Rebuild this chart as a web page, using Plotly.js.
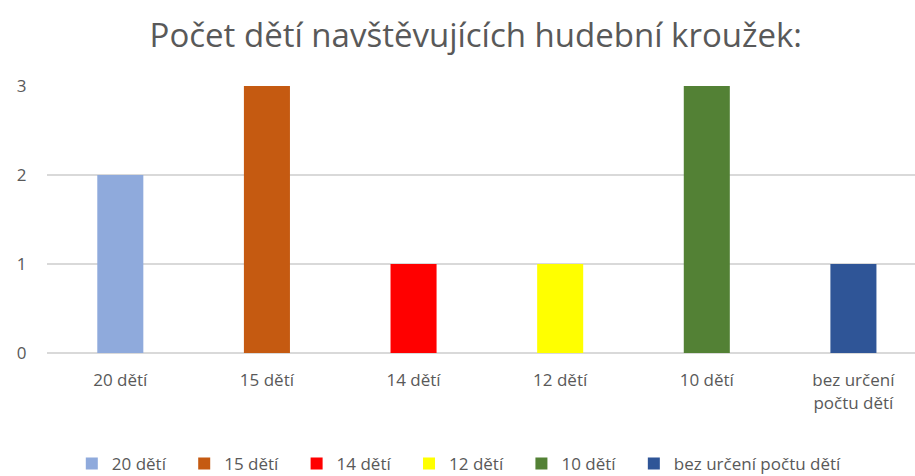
<!DOCTYPE html>
<html>
<head>
<meta charset="utf-8">
<script src="https://cdn.plot.ly/plotly-3.0.1.min.js"></script>
<style>html,body{margin:0;padding:0;background:#fff}#chart{width:915px;height:476px}</style>
</head>
<body>
<div id="chart"></div>
<script>
const categories = ['20 dětí', '15 dětí', '14 dětí', '12 dětí', '10 dětí', 'bez určení počtu dětí'];
const tickLabels = ['20 dětí', '15 dětí', '14 dětí', '12 dětí', '10 dětí', 'bez určení<br>počtu dětí'];
const counts = [2, 3, 1, 1, 3, 1];
const colors = ['#8faadc', '#c55a11', '#ff0000', '#ffff00', '#538135', '#2f5597'];
const yTicks = [0, 1, 2, 3];

const font = "'Open Sans', sans-serif";
const pad = '\u00a0\u00a0\u00a0';
const traces = categories.map((c, i) => ({
  type: 'bar',
  name: i < categories.length - 1 ? c + pad : c,
  x: [c],
  y: [counts[i]],
  width: 0.314,
  marker: {color: colors[i]},
  hoverinfo: 'x+y'
}));

const layout = {
  width: 915, height: 476,
  margin: {l: 47, r: 0, t: 85, b: 123, autoexpand: false},
  paper_bgcolor: '#fff', plot_bgcolor: '#fff',
  barmode: 'overlay',
  font: {family: font, color: '#595959', size: 17},
  title: {text: 'Počet dětí navštěvujících hudební kroužek:', font: {family: font, size: 33, color: '#595959'}, x: 0.52, xanchor: 'center', y: 0.925, yanchor: 'middle'},
  xaxis: {
    type: 'category', categoryorder: 'array', categoryarray: categories,
    range: [-0.5, 5.42],
    tickvals: categories, ticktext: tickLabels,
    ticks: 'outside', ticklen: 12, tickcolor: 'rgba(0,0,0,0)',
    showgrid: false, showline: false, zeroline: false,
    tickfont: {size: 17, color: '#595959'}
  },
  yaxis: {
    range: [0, 3.01], tickvals: yTicks,
    ticks: 'outside', ticklen: 16, tickcolor: 'rgba(0,0,0,0)',
    showgrid: true, gridcolor: '#d9d9d9', gridwidth: 1.5,
    zeroline: true, zerolinecolor: '#d9d9d9', zerolinewidth: 1.5,
    showline: false,
    tickfont: {size: 17, color: '#595959'}
  },
  showlegend: true,
  legend: {orientation: 'h', x: 0.475, xanchor: 'center', y: -0.414, yanchor: 'middle', font: {size: 17, color: '#595959'}, itemclick: false, traceorder: 'normal', tracegroupgap: 0}
};

Plotly.newPlot('chart', traces, layout, {displayModeBar: false, staticPlot: true});
</script>
</body>
</html>
